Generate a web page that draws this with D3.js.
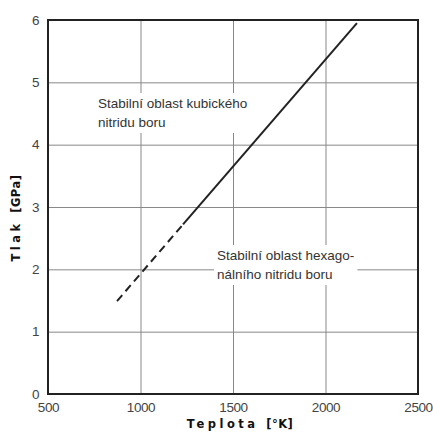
<!DOCTYPE html>
<html>
<head>
<meta charset="utf-8">
<script src="https://cdn.jsdelivr.net/npm/d3@7"></script>
<style>
  body { margin: 0; background: #fff; }
  svg { display: block; }
</style>
</head>
<body>
<svg id="chart" width="433" height="433"></svg>
<script>
// hodnoty
const xTicks = [500, 1000, 1500, 2000, 2500];
const yTicks = [0, 1, 2, 3, 4, 5, 6];
const dashedLine = [[873, 1.49], [1230, 2.72]];
const solidLine = [[1230, 2.72], [2170, 5.95]];
const labelCubic = ['Stabilní oblast kubického', 'nitridu boru'];
const labelHex = ['Stabilní oblast hexago-', 'nálního nitridu boru'];

const margin = { top: 20, right: 15, bottom: 39, left: 48 };
const width = 433;
const height = 433;

const svg = d3.select('#chart');

const x = d3.scaleLinear()
  .domain([500, 2500])
  .range([margin.left, width - margin.right]);
const y = d3.scaleLinear()
  .domain([0, 6])
  .range([height - margin.bottom, margin.top]);

// mřížka
svg.append('g')
  .attr('stroke', '#888')
  .attr('stroke-width', 1)
  .call((g) => g.selectAll('line.v')
    .data(xTicks.slice(1, -1))
    .join('line')
    .attr('class', 'v')
    .attr('x1', (d) => x(d) + 0.5)
    .attr('x2', (d) => x(d) + 0.5)
    .attr('y1', y(6))
    .attr('y2', y(0)))
  .call((g) => g.selectAll('line.h')
    .data(yTicks.slice(1, -1))
    .join('line')
    .attr('class', 'h')
    .attr('x1', x(500))
    .attr('x2', x(2500))
    .attr('y1', (d) => y(d) + 0.5)
    .attr('y2', (d) => y(d) + 0.5));

// textové popisky s bílým podkladem
const addLabel = (lines, x0, y0) => {
  const g = svg.append('g');
  const t = g.append('text')
    .attr('font-family', 'Liberation Sans, Arial, sans-serif')
    .attr('font-size', 13.5)
    .attr('fill', '#333');
  t.selectAll('tspan')
    .data(lines)
    .join('tspan')
    .attr('x', x0)
    .attr('y', (d, i) => y0 + i * 19)
    .text((d) => d);
  const bb = t.node().getBBox();
  g.insert('rect', 'text')
    .attr('x', bb.x - 3)
    .attr('y', bb.y - 3)
    .attr('width', bb.width + 6)
    .attr('height', bb.height + 6)
    .attr('fill', '#fff');
};
addLabel(labelCubic, 98, 108);
addLabel(labelHex, 217, 260);

// fázová hranice
const line = d3.line()
  .x((d) => x(d[0]))
  .y((d) => y(d[1]));
svg.append('path')
  .datum(dashedLine)
  .attr('d', line)
  .attr('fill', 'none')
  .attr('stroke', '#222')
  .attr('stroke-width', 2)
  .attr('stroke-dasharray', '8,5');
svg.append('path')
  .datum(solidLine)
  .attr('d', line)
  .attr('fill', 'none')
  .attr('stroke', '#222')
  .attr('stroke-width', 2);

// rámeček
svg.append('rect')
  .attr('x', x(500))
  .attr('y', y(6))
  .attr('width', x(2500) - x(500))
  .attr('height', y(0) - y(6))
  .attr('fill', 'none')
  .attr('stroke', '#222')
  .attr('stroke-width', 2);

// osy
const xAxis = (g) => g
  .attr('transform', `translate(0,${y(0)})`)
  .call(d3.axisBottom(x).tickValues(xTicks).tickFormat(d3.format('d')).tickSize(0).tickPadding(8))
  .call((g) => g.select('.domain').remove());
const yAxis = (g) => g
  .attr('transform', `translate(${margin.left},0)`)
  .call(d3.axisLeft(y).tickValues(yTicks).tickFormat(d3.format('d')).tickSize(0).tickPadding(9))
  .call((g) => g.select('.domain').remove());

svg.append('g').call(xAxis);
svg.append('g').call(yAxis);
svg.selectAll('.tick text')
  .attr('font-family', 'Liberation Sans, Arial, sans-serif')
  .attr('font-size', 13.5)
  .attr('letter-spacing', -0.4)
  .attr('fill', '#444');

// názvy os
svg.append('text')
  .attr('x', 240)
  .attr('y', 428)
  .attr('text-anchor', 'middle')
  .attr('font-family', 'DejaVu Sans, sans-serif')
  .attr('font-weight', 'bold')
  .attr('font-size', 11.5)
  .attr('fill', '#111')
  .call((t) => {
    t.append('tspan').attr('letter-spacing', 3.5).text('Teplota ');
    t.append('tspan').attr('letter-spacing', 0.5).text('[°K]');
  });
svg.append('text')
  .attr('transform', 'translate(20,218) rotate(-90)')
  .attr('text-anchor', 'middle')
  .attr('font-family', 'DejaVu Sans, sans-serif')
  .attr('font-weight', 'bold')
  .attr('font-size', 11.5)
  .attr('fill', '#111')
  .call((t) => {
    t.append('tspan').attr('letter-spacing', 3.5).text('Tlak ');
    t.append('tspan').attr('letter-spacing', 0.5).text('[GPa]');
  });
</script>
</body>
</html>
